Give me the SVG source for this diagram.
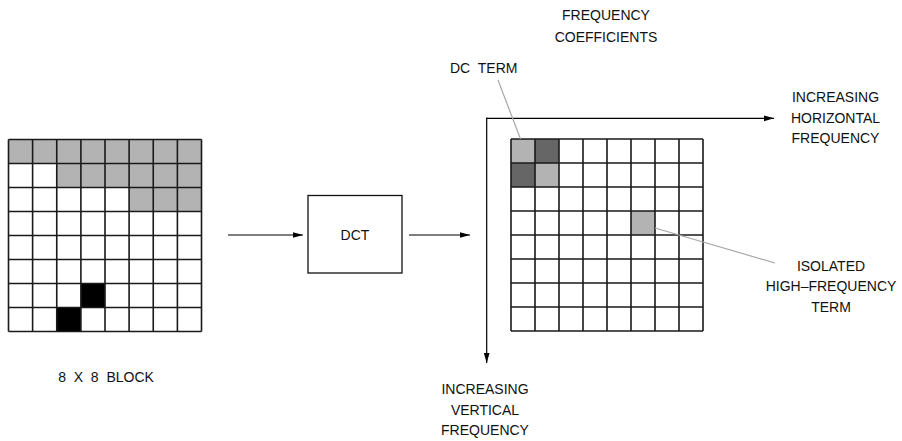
<svg xmlns="http://www.w3.org/2000/svg" width="902" height="441" viewBox="0 0 902 441">
<style>
  text { font-family: "Liberation Sans", Arial, sans-serif; font-size: 14px; fill: #111; white-space: pre; }
  .c { text-anchor: middle; }
  .grid { stroke: #1a1a1a; stroke-width: 1.6; fill: none; }
  .lt { fill: #b3b3b3; }
  .dk { fill: #666666; }
  .bk { fill: #000000; }
  .conn { stroke: #000; stroke-width: 1.2; fill: none; }
  .lead { stroke: #a8a8a8; stroke-width: 1.2; fill: none; }
</style>
<defs>
  <marker id="ah" markerWidth="11" markerHeight="7" refX="10.5" refY="3.5" orient="auto" markerUnits="userSpaceOnUse">
    <path d="M0,0.5 L10.5,3.5 L0,6.5 Z" fill="#000"/>
  </marker>
</defs>
<rect width="902" height="441" fill="#fff"/>

<g id="input-block">
  <rect x="8.5" y="139.5" width="193" height="192" fill="#fff"/>
  <g class="lt">
    <rect x="8.5" y="139.5" width="193" height="24"/>
    <rect x="56.75" y="163.5" width="144.75" height="24"/>
    <rect x="128.875" y="187.5" width="72.625" height="24"/>
  </g>
  <rect class="bk" x="80.9" y="283.5" width="24.1" height="24"/>
  <rect class="bk" x="56.75" y="307.5" width="24.1" height="24"/>
  <path class="grid" d="M8.5,139.5V331.5 M32.6,139.5V331.5 M56.75,139.5V331.5 M80.9,139.5V331.5 M105,139.5V331.5 M129.1,139.5V331.5 M153.25,139.5V331.5 M177.4,139.5V331.5 M201.5,139.5V331.5 M8.5,139.5H201.5 M8.5,163.5H201.5 M8.5,187.5H201.5 M8.5,211.5H201.5 M8.5,235.5H201.5 M8.5,259.5H201.5 M8.5,283.5H201.5 M8.5,307.5H201.5 M8.5,331.5H201.5"/>
  <text x="106" y="382" class="c">8  X  8  BLOCK</text>
</g>

<g id="dct">
  <rect x="308" y="195.5" width="94" height="77.5" fill="#fff" stroke="#111" stroke-width="1.3"/>
  <text x="355" y="240" class="c">DCT</text>
</g>

<g id="coefficients">
  <rect x="511" y="139" width="192" height="192" fill="#fff"/>
  <rect class="lt" x="511" y="139" width="24" height="24"/>
  <rect class="dk" x="535" y="139" width="24" height="24"/>
  <rect class="dk" x="511" y="163" width="24" height="24"/>
  <rect class="lt" x="535" y="163" width="24" height="24"/>
  <rect class="lt" x="631" y="211" width="24" height="24"/>
  <path class="grid" d="M511,139V331 M535,139V331 M559,139V331 M583,139V331 M607,139V331 M631,139V331 M655,139V331 M679,139V331 M703,139V331 M511,139H703 M511,163H703 M511,187H703 M511,211H703 M511,235H703 M511,259H703 M511,283H703 M511,307H703 M511,331H703"/>
  <text x="606" y="20" class="c">FREQUENCY</text>
  <text x="606" y="41.5" class="c">COEFFICIENTS</text>
</g>

<g id="dc-term">
  <text x="450" y="73">DC  TERM</text>
</g>

<g id="horizontal-label">
  <text x="835.5" y="101.5" class="c">INCREASING</text>
  <text x="835.5" y="122.5" class="c">HORIZONTAL</text>
  <text x="835.5" y="143" class="c">FREQUENCY</text>
</g>

<g id="vertical-label">
  <text x="485" y="394" class="c">INCREASING</text>
  <text x="485" y="414.5" class="c">VERTICAL</text>
  <text x="485" y="435" class="c">FREQUENCY</text>
</g>

<g id="isolated-label">
  <text x="831" y="270.5" class="c">ISOLATED</text>
  <text x="831" y="291" class="c">HIGH–FREQUENCY</text>
  <text x="831" y="311.5" class="c">TERM</text>
</g>

<g id="connectors">
  <line class="conn" x1="228" y1="235" x2="303" y2="235" marker-end="url(#ah)"/>
  <line class="conn" x1="409" y1="235" x2="470" y2="235" marker-end="url(#ah)"/>
  <line class="conn" x1="486.1" y1="118.3" x2="774" y2="118.3" marker-end="url(#ah)"/>
  <line class="conn" x1="486.7" y1="117.7" x2="486.7" y2="363" marker-end="url(#ah)"/>
  <line class="lead" x1="498" y1="80" x2="520.5" y2="139"/>
  <line class="lead" x1="655" y1="228" x2="775" y2="263"/>
</g>
</svg>
